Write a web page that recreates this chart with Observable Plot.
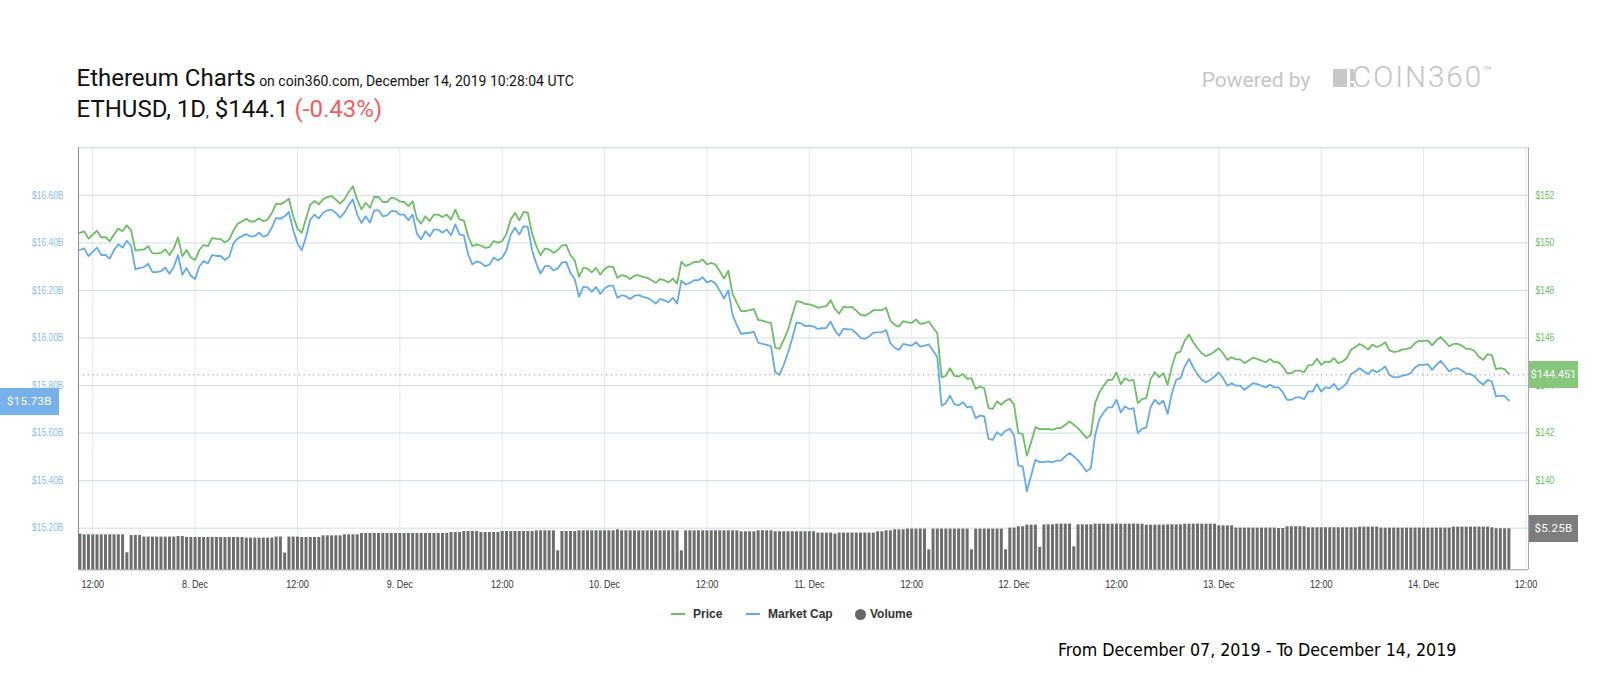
<!DOCTYPE html>
<html>
<head>
<meta charset="utf-8">
<script src="https://cdn.jsdelivr.net/npm/d3@7"></script>
<script src="https://cdn.jsdelivr.net/npm/@observablehq/plot@0.6"></script>
<style>
  html, body { margin: 0; padding: 0; background: #fff; }
  #wrap { position: relative; width: 1600px; height: 700px; overflow: hidden; font-family: Roboto, "Liberation Sans", sans-serif; }
  .abs { position: absolute; white-space: nowrap; line-height: 1; }
  .layer { position: absolute; left: 0; top: 120px; width: 1600px; height: 500px; }
  .box { position: absolute; height: 27px; line-height: 27px; color: #fff; font-family: Roboto, sans-serif; font-size: 11.5px; text-align: center; letter-spacing: 0.3px; white-space: nowrap; }
  .leg { position: absolute; top: 608px; font: bold 12px "Liberation Sans", Arial, sans-serif; color: #333; line-height: 1; white-space: nowrap; }
</style>
</head>
<body>
<div id="wrap">
  <div class="abs" style="left:76.5px; top:66px; color:#111;">
    <span style="font-size:24px;">Ethereum Charts</span><span style="font-size:14px;"> on coin360.com, December 14, 2019 10:28:04 UTC</span>
  </div>
  <div class="abs" style="left:76.5px; top:96.5px; color:#111;">
    <span style="font-size:24px;">ETHUSD, 1D</span><span style="font-size:14px;">,</span><span style="font-size:24px;">&nbsp;$144.1 </span><span style="font-size:24px; color:#f25d5d;">(-0.43%)</span>
  </div>
  <div class="abs" style="left:1201.7px; top:69.6px; font-size:21px; color:#c6c6c6;">Powered by</div>
  <div class="abs" style="left:1333px; top:69px; width:14px; height:18.3px; background:#c8c8c8;"></div>
  <div class="abs" style="left:1349.5px; top:69px; width:4.5px; height:12px; background:#c8c8c8;"></div>
  <div class="abs" style="left:1349.5px; top:83.3px; width:4.5px; height:4px; background:#c8c8c8;"></div>
  <div class="abs" style="left:1352px; top:62.8px; font-size:29.5px; font-weight:300; letter-spacing:2px; color:#c4c4c4;">COIN360<span style="font-size:14px; letter-spacing:0; vertical-align:top; position:relative; top:1px;">™</span></div>

  <div id="l-base" class="layer"></div>
  <div id="l-vol" class="layer"></div>
  <div id="l-price" class="layer"></div>

  <div class="abs" style="left:671px; top:613px; width:14px; height:2px; background:#6cbd63;"></div>
  <div class="leg" style="left:693px;">Price</div>
  <div class="abs" style="left:746px; top:613px; width:14px; height:2px; background:#64a9ea;"></div>
  <div class="leg" style="left:768px;">Market Cap</div>
  <div class="abs" style="left:854.5px; top:608.5px; width:11px; height:11px; border-radius:50%; background:#666;"></div>
  <div class="leg" style="left:870px;">Volume</div>

  <div class="abs" style="left:1058px; top:642px; font-family:'DejaVu Sans Condensed','DejaVu Sans',sans-serif; font-stretch:condensed; font-size:17.7px; color:#000;">From December 07, 2019 - To December 14, 2019</div>
</div>
<script>
// ---- data (30-minute points starting 2019-12-07 10:30 UTC) ----
const startUTC = Date.UTC(2019, 11, 7, 10, 30);
const stepMinutes = 30;

const price = [
150.42,150.49,150.18,150.35,150.51,150.23,150.24,150.07,150.35,150.60,150.49,150.74,150.53,149.68,149.72,149.72,149.86,149.56,149.56,149.58,
149.72,149.49,149.77,150.23,149.44,149.70,149.39,149.28,149.70,149.91,149.86,150.20,150.17,150.16,150.02,150.14,150.53,150.81,150.90,151.01,
150.90,150.91,151.04,150.91,150.98,151.26,151.65,151.62,151.72,151.86,151.12,150.60,
150.42,151.02,151.61,151.76,151.62,151.83,151.93,151.97,151.82,151.65,
151.83,152.14,152.38,151.82,151.41,151.69,151.48,151.93,151.93,151.72,
151.72,151.90,151.86,151.75,151.72,151.55,151.75,151.02,150.81,151.12,
150.92,151.19,151.19,151.09,151.19,150.98,151.40,150.98,150.95,150.28,
149.86,149.94,149.89,149.79,149.82,150.08,150.00,150.08,150.39,150.98,
151.26,150.95,151.30,151.27,150.39,149.86,149.48,149.76,149.73,149.58,
149.69,149.89,149.92,149.48,149.27,148.57,148.95,148.92,148.76,148.95,
148.67,148.90,149.01,148.99,148.53,148.64,148.60,148.48,148.62,148.64,
148.57,148.53,148.43,148.32,148.48,148.43,148.34,148.50,148.29,149.20,
149.03,149.10,149.20,149.20,149.30,149.10,149.16,149.09,148.81,148.50,
148.83,147.87,147.48,147.13,147.13,147.17,147.22,146.76,146.73,146.67,
146.64,145.59,145.54,145.92,146.34,146.97,147.55,147.52,147.43,
147.41,147.36,147.27,147.31,147.34,147.59,147.22,147.03,147.31,147.29,
147.31,147.15,146.97,146.94,147.03,147.17,147.17,147.17,147.27,146.73,
146.55,146.48,146.71,146.66,146.64,146.78,146.59,146.62,146.69,146.43,
146.20,144.34,144.42,144.73,144.41,144.38,144.49,144.28,144.31,143.86,
143.96,143.89,143.05,143.02,143.33,143.19,143.36,143.44,143.19,142.00,
141.97,141.05,141.61,142.25,142.17,142.17,142.18,142.14,
142.21,142.21,142.35,142.49,142.35,142.21,142.00,141.79,141.93,143.26,
143.71,143.99,144.24,144.24,144.55,144.06,144.31,144.20,144.24,143.26,
143.43,143.47,144.27,144.56,144.35,144.52,144.03,144.80,145.36,145.43,
145.89,146.15,145.82,145.57,145.36,145.24,145.31,145.43,145.57,145.36,
145.08,145.19,145.10,145.10,144.94,145.05,145.17,145.12,145.05,144.98,
145.12,144.98,144.98,144.80,144.52,144.52,144.63,144.63,144.56,
144.85,144.87,145.13,144.87,145.01,144.99,145.15,144.94,145.01,145.15,
145.51,145.61,145.75,145.65,145.51,145.72,145.62,145.69,145.82,145.48,
145.41,145.44,145.51,145.54,145.58,145.79,145.89,145.87,145.90,145.69,
145.90,146.04,145.86,145.65,145.75,145.75,145.68,145.54,145.54,145.44,
145.20,145.08,145.32,145.27,144.69,144.73,144.69,144.49
];

const marketCap = [
16.370,16.377,16.345,16.362,16.380,16.349,16.349,16.334,16.370,16.394,16.380,16.409,16.387,16.289,16.295,16.298,16.312,16.277,16.277,16.281,
16.296,16.270,16.298,16.349,16.266,16.294,16.262,16.248,16.301,16.324,16.314,16.349,16.345,16.345,16.328,16.342,16.398,16.419,16.429,16.437,
16.426,16.429,16.443,16.426,16.433,16.465,16.505,16.501,16.512,16.530,16.454,16.398,
16.369,16.425,16.498,16.519,16.502,16.527,16.537,16.540,16.526,16.506,
16.527,16.558,16.583,16.519,16.484,16.512,16.485,16.537,16.537,16.512,
16.516,16.534,16.534,16.519,16.519,16.495,16.519,16.439,16.415,16.449,
16.428,16.456,16.456,16.443,16.456,16.432,16.478,16.435,16.432,16.352,
16.310,16.322,16.316,16.302,16.308,16.338,16.327,16.338,16.369,16.435,
16.464,16.435,16.470,16.467,16.369,16.313,16.271,16.302,16.302,16.285,
16.292,16.317,16.320,16.274,16.248,16.173,16.215,16.213,16.194,16.215,
16.185,16.208,16.220,16.220,16.169,16.180,16.176,16.164,16.178,16.180,
16.173,16.169,16.159,16.145,16.164,16.159,16.150,16.169,16.145,16.241,
16.225,16.232,16.243,16.243,16.255,16.234,16.241,16.229,16.199,16.166,
16.201,16.097,16.055,16.017,16.020,16.022,16.027,15.980,15.975,15.971,
15.966,15.856,15.845,15.887,15.938,15.999,16.066,16.062,16.050,
16.052,16.048,16.038,16.041,16.043,16.069,16.031,16.010,16.039,16.036,
16.036,16.020,16.001,15.996,16.006,16.022,16.024,16.024,16.034,15.978,
15.959,15.950,15.975,15.971,15.968,15.982,15.964,15.968,15.973,15.947,
15.919,15.715,15.726,15.758,15.722,15.716,15.730,15.708,15.712,15.663,
15.674,15.670,15.576,15.572,15.604,15.590,15.610,15.618,15.590,15.463,
15.460,15.355,15.422,15.488,15.478,15.478,15.481,15.477,
15.484,15.484,15.502,15.516,15.502,15.485,15.463,15.439,15.453,15.590,
15.659,15.687,15.708,15.708,15.740,15.687,15.712,15.701,15.705,15.600,
15.618,15.624,15.709,15.740,15.722,15.736,15.681,15.768,15.824,15.831,
15.880,15.912,15.877,15.848,15.824,15.814,15.824,15.838,15.855,15.831,
15.799,15.810,15.800,15.800,15.782,15.796,15.810,15.806,15.799,15.792,
15.803,15.792,15.792,15.772,15.740,15.740,15.750,15.750,15.743,
15.775,15.775,15.806,15.775,15.792,15.789,15.807,15.782,15.793,15.810,
15.848,15.859,15.873,15.859,15.849,15.866,15.856,15.866,15.880,15.845,
15.834,15.835,15.842,15.845,15.852,15.876,15.887,15.887,15.890,15.866,
15.887,15.904,15.883,15.859,15.870,15.873,15.863,15.849,15.849,15.838,
15.817,15.803,15.824,15.817,15.754,15.758,15.756,15.737
];

const volume = [
4.57,
4.48,4.48,4.48,4.48,4.48,4.48,4.48,4.48,4.48,4.48,
2.18,
4.39,4.39,4.39,
4.19,4.19,4.19,4.19,4.19,4.19,4.19,4.19,
4.26,4.26,
4.14,4.14,4.14,4.14,4.14,4.14,4.14,4.14,4.14,4.14,4.14,4.14,4.14,4.14,
4.06,4.06,4.06,4.06,4.06,4.06,4.06,
4.19,4.19,
2.14,
4.19,4.19,4.19,
4.14,4.14,4.14,4.14,4.14,
4.35,4.35,4.35,4.35,4.35,
4.48,4.48,4.48,4.48,
4.65,4.65,4.65,4.65,4.65,4.65,4.65,4.65,4.65,4.65,4.65,4.65,4.65,4.65,4.65,4.65,4.65,4.65,4.65,4.65,4.65,
4.78,4.78,4.78,
4.90,4.90,4.90,4.90,
4.78,4.78,4.78,4.78,4.78,
4.90,4.90,4.90,4.90,4.90,4.90,4.90,4.90,
4.99,4.99,4.99,4.99,4.99,
2.43,
4.90,4.90,4.90,4.90,
4.99,4.99,4.99,4.99,4.99,4.99,4.99,4.99,4.99,
5.12,
4.99,4.99,4.99,4.99,4.99,4.99,4.99,4.99,4.99,4.99,4.99,4.99,4.99,4.99,
2.43,
4.99,4.99,4.99,4.99,4.99,4.99,4.99,4.99,4.99,4.99,4.99,4.99,4.99,
4.87,4.87,4.87,4.87,
4.99,4.99,4.99,4.99,
4.87,4.87,4.87,4.87,4.87,4.87,4.87,4.87,4.87,4.87,
4.70,4.70,4.70,4.70,
4.57,
4.70,4.70,4.70,4.70,4.70,4.70,4.70,4.70,4.70,
4.87,4.87,
4.99,4.99,
5.12,5.12,5.12,
5.21,5.21,5.21,5.21,5.21,
2.56,
5.21,5.21,5.21,5.21,5.21,5.21,5.21,5.21,5.21,
2.56,
5.21,5.21,5.21,5.21,5.21,5.21,5.21,
2.56,
5.34,5.34,
5.51,5.51,
5.72,5.72,5.72,
2.86,
5.76,5.76,5.76,
5.85,5.85,5.85,5.85,
2.94,
5.76,5.76,5.76,5.76,
5.85,5.85,5.85,5.85,5.85,5.85,5.85,5.85,5.85,5.85,5.85,5.85,
5.72,5.72,5.72,5.72,5.72,
5.76,5.76,5.76,5.76,
5.85,5.85,5.85,5.85,5.85,5.85,5.85,5.85,
5.63,5.63,5.63,5.63,
5.34,5.34,5.34,5.34,5.34,5.34,5.34,5.34,5.34,5.34,
5.29,5.29,
5.51,5.51,5.51,5.51,5.51,
5.38,5.38,5.38,5.38,5.38,5.38,5.38,5.38,5.38,5.38,5.38,5.38,
5.47,5.47,5.47,5.47,5.47,
5.34,5.34,5.34,5.34,5.34,5.34,5.34,5.34,5.34,5.34,5.34,5.34,5.34,5.34,5.34,5.34,5.34,
5.47,5.47,5.47,5.47,5.47,5.47,5.47,5.47,5.47,
5.38,
5.25,5.25,5.25,5.25
];

const mcapTicks = [15.2, 15.4, 15.6, 15.8, 16.0, 16.2, 16.4, 16.6];
const priceTicks = [140, 142, 144, 146, 148, 150, 152];
const xTickLabels = ["12:00","8. Dec","12:00","9. Dec","12:00","10. Dec","12:00","11. Dec","12:00","12. Dec","12:00","13. Dec","12:00","14. Dec","12:00"];
const lastPrice = 144.451;
const lastMcap = 15.73;
const lastVolume = 5.25;

if (price.length !== marketCap.length || price.length !== volume.length) {
  throw new Error(`length mismatch price ${price.length} mcap ${marketCap.length} vol ${volume.length}`);
}

const data = price.map((p, i) => ({
  date: new Date(startUTC + i * stepMinutes * 60000),
  price: p, mcap: marketCap[i], volume: volume[i]
}));
const xTicks = xTickLabels.map((_, i) => new Date(Date.UTC(2019, 11, 7, 12) + i * 12 * 3600000));
const labelByTime = new Map(xTicks.map((d, i) => [+d, xTickLabels[i]]));

// ---- layout ----
const tickFont = "'Liberation Sans', Arial, sans-serif";
const GREEN = "#6cbd63", BLUE = "#64a9ea";
const xDomain = [new Date(Date.UTC(2019, 11, 7, 10, 20)), new Date(Date.UTC(2019, 11, 14, 12, 18))];
const mcapDomain = [15.025, 16.80];
const priceDomain = [136.25, 154.0];
const volDomain = [0, 54.04];
const common = {
  width: 1600, height: 500,
  marginLeft: 78, marginRight: 72, marginTop: 27.3, marginBottom: 50.7,
  x: {type: "utc", domain: xDomain, axis: null},
  style: {background: "transparent", overflow: "visible", fontFamily: tickFont, fontSize: "10px"}
};

const base = Plot.plot({
  ...common,
  y: {domain: mcapDomain, axis: null},
  marks: [
    Plot.gridX(xTicks, {stroke: "#e4e8ec", strokeOpacity: 1}),
    Plot.gridY(mcapTicks, {stroke: "#d3dde5", strokeOpacity: 1}),
    Plot.ruleY([mcapDomain[1]], {stroke: "#ccd6e0"}),
    Plot.ruleY([mcapDomain[0]], {stroke: "#9a9a9a"}),
    Plot.ruleX([xDomain[0]], {stroke: "#8c8c8c"}),
    Plot.ruleX([xDomain[1]], {stroke: "#a8a8a8"}),
    Plot.axisY(mcapTicks, {anchor: "left", label: null, tickSize: 0, tickPadding: 15,
      tickFormat: d => `$${d.toFixed(2)}B`, color: "#8bbcef", fontSize: 10.3, fontFamily: tickFont}),
    Plot.axisX(xTicks, {anchor: "bottom", label: null, tickSize: 0, tickPadding: 10,
      tickFormat: d => labelByTime.get(+d), color: "#333", fontSize: 11, fontFamily: tickFont}),
    Plot.lineY(data, {x: "date", y: "mcap", stroke: BLUE, strokeWidth: 1.8})
  ]
});

const volPlot = Plot.plot({
  ...common,
  y: {domain: volDomain, axis: null},
  marks: [
    Plot.ruleX(data, {x: "date", y1: 0, y2: "volume", stroke: "#6d6d6d", strokeWidth: 3})
  ]
});

const pricePlot = Plot.plot({
  ...common,
  y: {domain: priceDomain, axis: null},
  marks: [
    Plot.ruleY([lastPrice], {stroke: "#8a8a8a", strokeDasharray: "1.2,3.6"}),
    Plot.axisY(priceTicks, {anchor: "right", label: null, tickSize: 0, tickPadding: 7,
      tickFormat: d => `$${d}`, color: GREEN, fontSize: 10.3, fontFamily: tickFont}),
    Plot.lineY(data, {x: "date", y: "price", stroke: GREEN, strokeWidth: 1.8})
  ]
});

document.getElementById("l-base").append(base);
document.getElementById("l-vol").append(volPlot);
document.getElementById("l-price").append(pricePlot);

// narrow the tick-label glyphs (the original uses a narrow sans)
for (const svg of [base, pricePlot]) {
  svg.querySelectorAll("g[aria-label$='tick label'] text").forEach(t => {
    const w = t.getComputedTextLength();
    if (w > 0) {
      t.setAttribute("textLength", (w * 0.82).toFixed(2));
      t.setAttribute("lengthAdjust", "spacingAndGlyphs");
    }
  });
}

// value flags positioned with the plots' own scales
const wrap = document.getElementById("wrap");
function flag(text, left, width, yCenter, bg, size) {
  const el = document.createElement("div");
  el.className = "box";
  el.textContent = text;
  el.style.left = left + "px";
  el.style.width = width + "px";
  el.style.top = (120 + yCenter - 13.5) + "px";
  el.style.background = bg;
  if (size) { el.style.fontSize = size + "px"; el.style.letterSpacing = "0"; }
  wrap.append(el);
}
flag(`$${lastMcap.toFixed(2)}B`, 0, 58.7, base.scale("y").apply(lastMcap), "#78b1ea");
flag(`$${lastPrice}`, 1529, 49, pricePlot.scale("y").apply(lastPrice), "#86c77c", 10.8);
flag(`$${lastVolume.toFixed(2)}B`, 1529, 49, volPlot.scale("y").apply(lastVolume), "#7d7d7d");
</script>
</body>
</html>
